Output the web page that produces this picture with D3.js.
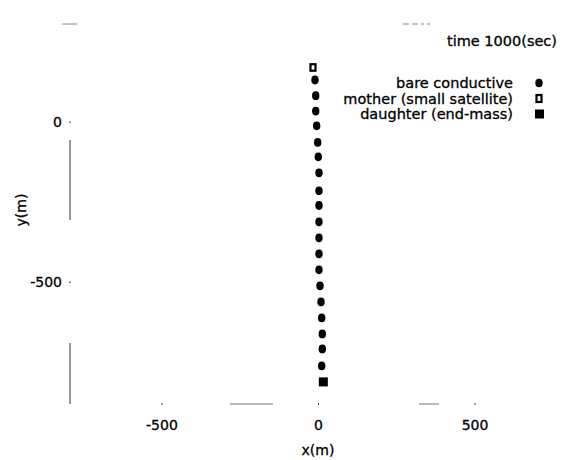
<!DOCTYPE html>
<meta charset="utf-8">
<style>
body { margin: 0; background: #fff; }
text { font-family: "DejaVu Sans", sans-serif; fill: #000; stroke: #000; stroke-width: 0.3px; }
</style>
<svg width="565" height="460"></svg>
<script src="https://d3js.org/d3.v7.min.js"></script>
<script>
// tether node positions (m) at t = 1000 s
var bareX = [-9.6, -7.3, -7.3, -4.2, -1, 1, 3.2, 3.2, 3.2, 3.2, 3.2, 3.2, 3.2, 6.4, 9.6, 11.8, 13.7, 13.7, 11.8];
var bareY = [130, 81, 33, -13, -65, -110, -160, -216, -262, -313, -363, -413, -463, -513, -563, -613, -663, -710, -763];
var motherX = [-16];
var motherY = [170];
var daughterX = [17];
var daughterY = [-813];

var xTicks = [-500, 0, 500];
var yTicks = [0, -500];
var legendLabels = ["bare conductive", "mother (small satellite)", "daughter (end-mass)"];
var timeLabel = "time 1000(sec)";

var svg = d3.select("svg");

var x = d3.scaleLinear().domain([-792, 792]).range([70, 566]),
    y = d3.scaleLinear().domain([-882, 305]).range([404, 24]);

// faded frame, like the scanned original
var frame = svg.append("g").attr("fill", "none");
frame.append("line")
    .attr("x1", 70).attr("x2", 70).attr("y1", 24).attr("y2", 404)
    .attr("stroke", "#333").attr("stroke-width", 1)
    .attr("stroke-dasharray", "0,116,80,123,61,0");
frame.append("line")
    .attr("x1", 70).attr("x2", 566).attr("y1", 404).attr("y2", 404)
    .attr("stroke", "#777").attr("stroke-width", 1)
    .attr("stroke-dasharray", "0,160,43,146,20,200");
frame.append("line")
    .attr("x1", 62).attr("x2", 566).attr("y1", 24).attr("y2", 24)
    .attr("stroke", "#888").attr("stroke-width", 1)
    .attr("stroke-dasharray", "3,0,12,326,6,3,6,3,3,3,3,400");

// axes
var fmt = function(d) { return String(d); };
var xAxis = svg.append("g")
    .attr("transform", "translate(0,403)")
    .call(d3.axisBottom(x).tickValues(xTicks).tickSize(2).tickPadding(15).tickFormat(fmt));
var yAxis = svg.append("g")
    .attr("transform", "translate(71,0)")
    .call(d3.axisLeft(y).tickValues(yTicks).tickSize(2).tickPadding(7).tickFormat(fmt));
[xAxis, yAxis].forEach(function(a) {
  a.select(".domain").remove();
  a.selectAll(".tick line").attr("stroke", "#444");
  a.selectAll(".tick text").style("font-size", "14px")
    .style("font-family", "'DejaVu Sans', sans-serif").attr("fill", "#000");
});
yAxis.selectAll(".tick text").attr("dy", "0.37em");

svg.append("text")
    .attr("x", 318).attr("y", 455)
    .attr("text-anchor", "middle")
    .style("font-size", "14px")
    .text("x(m)");
svg.append("text")
    .attr("transform", "translate(26,210) rotate(-90)")
    .attr("text-anchor", "middle")
    .style("font-size", "14px")
    .text("y(m)");

// tether nodes
var bare = bareX.map(function(v, i) { return {x: v, y: bareY[i]}; });
svg.append("g").selectAll("ellipse")
    .data(bare)
  .enter().append("ellipse")
    .attr("cx", function(d) { return x(d.x); })
    .attr("cy", function(d) { return y(d.y); })
    .attr("rx", 3.7).attr("ry", 4.4)
    .attr("fill", "#000");

// mother
svg.append("g").selectAll("rect")
    .data(motherX.map(function(v, i) { return {x: v, y: motherY[i]}; }))
  .enter().append("rect")
    .attr("x", function(d) { return x(d.x) - 2.5; })
    .attr("y", function(d) { return y(d.y) - 3; })
    .attr("width", 5).attr("height", 6.5)
    .attr("fill", "#fff").attr("stroke", "#000").attr("stroke-width", 2.2);

// daughter
svg.append("g").selectAll("rect")
    .data(daughterX.map(function(v, i) { return {x: v, y: daughterY[i]}; }))
  .enter().append("rect")
    .attr("x", function(d) { return x(d.x) - 4.5; })
    .attr("y", function(d) { return y(d.y) - 4.5; })
    .attr("width", 9).attr("height", 9)
    .attr("fill", "#000");

// legend
svg.append("text")
    .attr("x", 557).attr("y", 46)
    .attr("text-anchor", "end")
    .style("font-size", "14.5px")
    .text(timeLabel);

var lg = svg.append("g");
legendLabels.forEach(function(lbl, i) {
  var ly = 83 + i * 15.5;
  lg.append("text")
    .attr("x", 513).attr("y", ly).attr("dy", "0.36em")
    .attr("text-anchor", "end")
    .style("font-size", "14.5px")
    .text(lbl);
  if (i === 0) {
    lg.append("ellipse").attr("cx", 539).attr("cy", ly).attr("rx", 3.7).attr("ry", 4.2).attr("fill", "#000");
  } else if (i === 1) {
    lg.append("rect").attr("x", 536.5).attr("y", ly - 3.5).attr("width", 5).attr("height", 7)
      .attr("fill", "#fff").attr("stroke", "#000").attr("stroke-width", 2.2);
  } else {
    lg.append("rect").attr("x", 535).attr("y", ly - 4.5).attr("width", 9).attr("height", 9).attr("fill", "#000");
  }
});
</script>
